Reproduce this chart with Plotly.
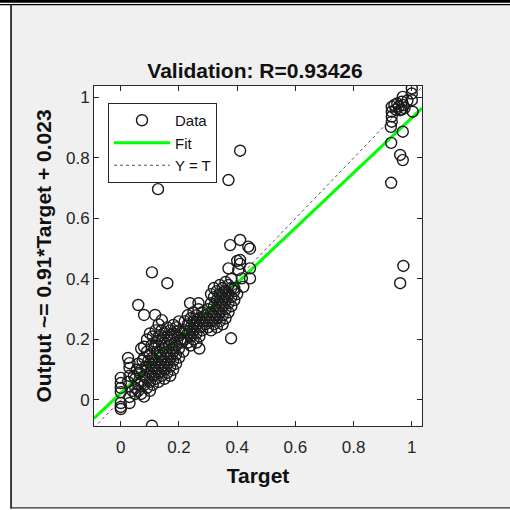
import plotly.graph_objects as go

# ---- data ----
target_a = [0.00,0.00,0.00,0.00,0.00,0.00,0.00,
            0.025,0.03,0.03,0.03,0.03,0.025,0.03,
            0.04,0.045,
            0.05,0.05,0.055,0.05,
            0.06,0.06,0.065,0.06,0.06,
            0.07,0.07,0.075,0.07,0.07,
            0.08,0.08,0.08,0.085,0.08,0.08,0.08,
            0.09,0.09,0.095,0.09,0.09,0.09,
            0.10,0.10,0.10,0.105,0.10,0.10,0.10,
            0.11,0.11,0.11,0.115,0.11,0.11,0.107,0.107,0.118,
            0.12,0.12,0.125,0.12,0.12,0.12,0.128,
            0.13,0.13,0.135,0.13,0.13,0.13,0.13,
            0.14,0.14,0.145,0.14,0.14,0.141,0.14,
            0.15,0.15,0.155,0.15,0.15,0.15,
            0.16,0.16,0.165,0.16,0.16,0.16,0.16,
            0.17,0.17,0.175,0.17,0.17,0.17,
            0.18,0.18,0.185,0.18,0.181,0.18,
            0.19,0.19,0.195,0.19,0.19,
            0.20,0.20,0.205,0.20,0.20,
            0.21,0.21,0.215]
output_a = [0.073,0.056,0.040,0.026,-0.010,-0.023,-0.030,
            0.139,0.122,0.106,0.010,-0.010,0.060,0.080,
            0.030,0.080,
            0.040,0.070,0.100,0.020,
            0.314,0.050,0.090,0.120,0.030,
            0.060,0.100,0.130,0.170,0.020,
            0.281,0.176,0.080,0.110,0.140,0.011,0.050,
            0.070,0.100,0.130,0.160,0.200,0.040,
            0.090,0.120,0.150,0.180,0.060,0.220,0.030,
            0.080,0.110,0.140,0.170,0.210,0.050,-0.085,0.422,0.281,
            0.100,0.130,0.160,0.190,0.230,0.070,0.697,
            0.090,0.120,0.150,0.180,0.210,0.060,0.250,
            0.110,0.140,0.170,0.200,0.080,0.264,0.230,
            0.100,0.130,0.160,0.190,0.220,0.070,
            0.120,0.150,0.180,0.210,0.240,0.090,0.386,
            0.110,0.140,0.170,0.200,0.230,0.080,
            0.130,0.160,0.190,0.220,0.248,0.100,
            0.150,0.180,0.210,0.240,0.120,
            0.140,0.170,0.200,0.230,0.260,
            0.190,0.220,0.160]

target_b = [0.22,0.22,0.22, 0.23,0.23,0.23,0.23, 0.24,0.24,0.24,0.238,0.24,
            0.25,0.25,0.25,0.25, 0.26,0.26,0.26,0.267,0.26, 0.27,0.27,0.27,0.27,0.267,
            0.28,0.28,0.28, 0.29,0.29]
output_b = [0.20,0.23,0.26, 0.19,0.22,0.25,0.28, 0.21,0.24,0.27,0.32,0.18,
            0.20,0.23,0.26,0.29, 0.22,0.25,0.28,0.32,0.19, 0.17,0.21,0.24,0.27,0.30,
            0.23,0.26,0.29, 0.25,0.28]

target_c = [0.30,0.30,0.30, 0.31,0.31,0.31,0.31,0.31, 0.32,0.32,0.32,0.32,0.32,
            0.33,0.33,0.33,0.33,0.33, 0.34,0.34,0.34,0.34,0.34, 0.35,0.35,0.35,0.35,0.35,
            0.36,0.36,0.36,0.36,0.36, 0.37,0.37,0.37,0.37,0.37,0.376,0.37,
            0.379,0.38,0.38,0.38,0.38, 0.39,0.39,0.39, 0.40,0.404,0.40,
            0.41,0.41,0.41,0.41, 0.416,0.421, 0.438,0.444,0.444,0.444]
output_c = [0.24,0.27,0.30, 0.23,0.26,0.29,0.32,0.35, 0.25,0.28,0.31,0.34,0.37,
            0.27,0.30,0.33,0.36,0.24, 0.26,0.29,0.32,0.35,0.38, 0.28,0.31,0.34,0.37,0.25,
            0.30,0.33,0.36,0.39,0.27, 0.29,0.32,0.35,0.38,0.435,0.512,0.727,
            0.204,0.31,0.34,0.37,0.40, 0.33,0.36,0.37, 0.46,0.43,0.35,
            0.529,0.463,0.824,0.45, 0.402,0.374, 0.507,0.435,0.402,0.50]

target_d = [1.00,1.00,0.969,0.966,1.00,0.931,0.931,0.931,0.931,0.928,0.96,0.965,0.97,
            0.955,0.975,1.003,0.969,0.929,0.96,0.969,0.929,0.971,0.96,0.95,0.985,0.94,0.945]
output_d = [1.03,1.013,1.002,0.986,0.991,0.969,0.953,0.937,0.92,0.903,0.958,0.96,0.975,
            0.97,0.965,0.953,0.887,0.85,0.81,0.793,0.718,0.443,0.386,0.98,0.99,0.975,0.96]

fit_slope = 0.91
fit_intercept = 0.023
x_limits = [-0.092, 1.035]
y_limits = [-0.086, 1.038]
tick_vals = [0, 0.2, 0.4, 0.6, 0.8, 1]
tick_text = ["0", "0.2", "0.4", "0.6", "0.8", "1"]

target = target_a + target_b + target_c + target_d
output = output_a + output_b + output_c + output_d

# ---- figure ----
W, H = 510, 510
L, R, T, B = 94, 88, 86, 84
pw, ph = W - L - R, H - T - B


def px(xp):
    return (xp - L) / pw


def py(yp):
    return (H - B - yp) / ph


FONT = "Liberation Sans, Arial, Helvetica, sans-serif"

fig = go.Figure()

fit_x = list(x_limits)
fit_y = [fit_slope * v + fit_intercept for v in fit_x]

fig.add_trace(go.Scatter(x=list(x_limits), y=list(x_limits), mode="lines", name="Y = T",
                         line=dict(color="#555555", width=1, dash="dot"), legendrank=3))
fig.add_trace(go.Scatter(x=fit_x, y=fit_y, mode="lines", name="Fit",
                         line=dict(color="#00ff00", width=3), legendrank=2))
fig.add_trace(go.Scatter(x=target, y=output, mode="markers", name="Data",
                         marker=dict(symbol="circle-open", size=11, color="#1a1a1a",
                                     line=dict(width=1.4, color="#1a1a1a")),
                         legendrank=1))

axis_common = dict(
    showgrid=False, zeroline=False, showline=True, linecolor="#262626", linewidth=1,
    mirror="ticks", ticks="inside", ticklen=5, tickcolor="#262626", tickwidth=1,
    tickvals=tick_vals, ticktext=tick_text,
    tickfont=dict(family=FONT, size=17, color="#262626"),
)

fig.update_xaxes(range=x_limits, **axis_common, ticklabelstandoff=6,
                 title=dict(text="<b>Target</b>", font=dict(family=FONT, size=21, color="#111"),
                            standoff=11))
fig.update_yaxes(range=y_limits, **axis_common,
                 title=dict(text="<b>Output ~= 0.91*Target + 0.023</b>",
                            font=dict(family=FONT, size=21, color="#111"), standoff=8))

shapes = [
    # white outer strips
    dict(type="rect", xref="paper", yref="paper", x0=px(0), x1=px(10.5), y0=py(0), y1=py(510),
         fillcolor="white", line=dict(width=0), layer="above"),
    dict(type="rect", xref="paper", yref="paper", x0=px(0), x1=px(510), y0=py(508.5), y1=py(510),
         fillcolor="white", line=dict(width=0), layer="above"),
    # frame: double line at top, left and bottom edges
    dict(type="rect", xref="paper", yref="paper", x0=px(0), x1=px(510), y0=py(0), y1=py(2.7),
         fillcolor="black", line=dict(width=0), layer="above"),
    dict(type="rect", xref="paper", yref="paper", x0=px(0), x1=px(510), y0=py(3.9), y1=py(5.2),
         fillcolor="black", line=dict(width=0), layer="above"),
    dict(type="rect", xref="paper", yref="paper", x0=px(10.3), x1=px(11.8), y0=py(3.9), y1=py(508.5),
         fillcolor="black", line=dict(width=0), layer="above"),
    dict(type="rect", xref="paper", yref="paper", x0=px(10.3), x1=px(510), y0=py(507.3), y1=py(508.5),
         fillcolor="#333333", line=dict(width=0), layer="above"),
]

fig.update_layout(
    width=W, height=H,
    margin=dict(l=L, r=R, t=T, b=B, pad=0),
    paper_bgcolor="#f0f0f0", plot_bgcolor="white",
    title=dict(text="<b>Validation: R=0.93426</b>", x=px(255), xanchor="center",
               xref="paper", y=1 - 71 / H, yanchor="middle", yref="container",
               font=dict(family=FONT, size=21, color="#111")),
    legend=dict(x=px(108), y=py(103), xanchor="left", yanchor="top",
                bgcolor="white", bordercolor="#262626", borderwidth=1,
                font=dict(family=FONT, size=15, color="#111"), itemwidth=56,
                tracegroupgap=0),
    shapes=shapes,
    showlegend=True,
)

fig.write_html("out.html", config={"displayModeBar": False},
               post_script="document.body.style.margin='0';document.body.style.overflow='hidden';")
